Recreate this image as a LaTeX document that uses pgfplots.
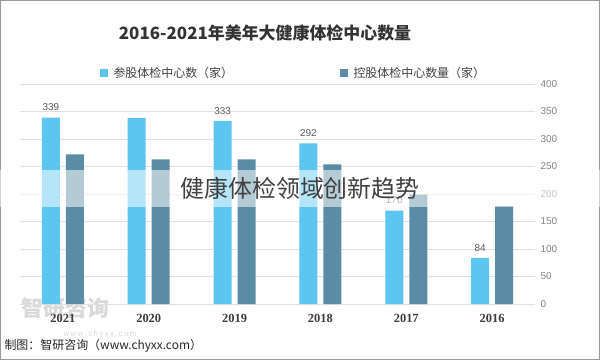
\documentclass[border=0pt]{standalone}
\usepackage{pgfplots}
\pgfplotsset{compat=1.18}
\usepackage{fontspec}
\setmainfont{Liberation Sans}
\newfontfamily\cjk{Noto Sans CJK SC}
\newfontfamily\yearfont{Liberation Serif}
\definecolor{lightb}{RGB}{92,198,240}
\definecolor{darkb}{RGB}{90,140,165}
\definecolor{gridc}{RGB}{225,225,225}
\definecolor{tickc}{RGB}{130,130,130}
\definecolor{yearc}{RGB}{60,60,60}
\definecolor{labc}{RGB}{90,90,90}
\begin{document}
\begin{tikzpicture}[x=1bp,y=1bp]
\path[use as bounding box] (0,0) rectangle (600,360);
\draw[draw=black!40, line width=1.2bp] (0.6,0.6) rectangle (599.4,359.4);
% watermark logo (behind the chart)
\node[anchor=west, font=\cjk\bfseries\fontsize{22}{24}\selectfont, text=black!15] at (18,52) {智研咨询};
\node[anchor=west, font=\fontsize{8}{9}\selectfont, text=black!15] at (60,26) {w\,w\,w\,.\,c\,h\,y\,x\,x\,.\,c\,o\,m};
\begin{axis}[
  at={(20bp,56bp)}, anchor=south west,
  scale only axis, width=515bp, height=220bp,
  xmin=-0.5, xmax=5.5, ymin=0, ymax=400,
  x dir=reverse,
  ybar=6bp, bar width=18bp,
  axis line style={draw=none},
  major tick length=0pt,
  ymajorgrids, grid style={draw=gridc, line width=0.9bp},
  ytick={0,50,...,400},
  yticklabel pos=right,
  yticklabel style={font=\fontsize{10}{12}\selectfont, text=tickc, xshift=2bp},
  /pgf/number format/assume math mode=true,
  xtick={0,...,5},
  xticklabels={2016,2017,2018,2019,2020,2021},
  xticklabel style={font=\yearfont\bfseries\fontsize{12.5}{14}\selectfont, text=yearc, yshift=-7bp},
  clip=false,
]
\addplot[fill=lightb, draw=none, point meta=explicit symbolic, nodes near coords,
  nodes near coords style={font=\fontsize{10}{12}\selectfont, text=labc, yshift=3bp}]
  coordinates {(0,84)[84] (1,170)[170] (2,292)[292] (3,333)[333] (4,338)[] (5,339)[339]};
\addplot[fill=darkb, draw=none]
  coordinates {(0,178) (1,199) (2,254) (3,263) (4,263) (5,272)};
\end{axis}
% title
\node[font=\cjk\bfseries\fontsize{17}{20}\selectfont, text=black!80] at (265,327) {2016-2021年美年大健康体检中心数量};
% legend
\fill[lightb] (100,283) rectangle (108,291);
\node[anchor=west, font=\cjk\fontsize{12}{14}\selectfont, text=black!75] at (110,287) {参股体检中心数（家）};
\fill[darkb] (340,283) rectangle (348,291);
\node[anchor=west, font=\cjk\fontsize{12}{14}\selectfont, text=black!75] at (350,287) {控股体检中心数量（家）};
% footer
\node[anchor=west, font=\cjk\fontsize{12}{14}\selectfont, text=black!85] at (1,14) {制图：智研咨询（www.chyxx.com）};
% overlay band
\fill[white, opacity=0.55] (0,153) rectangle (600,190);
\node[font=\cjk\fontsize{24}{26}\selectfont, text=black!75] at (300,172) {健康体检领域创新趋势};
\end{tikzpicture}
\end{document}
